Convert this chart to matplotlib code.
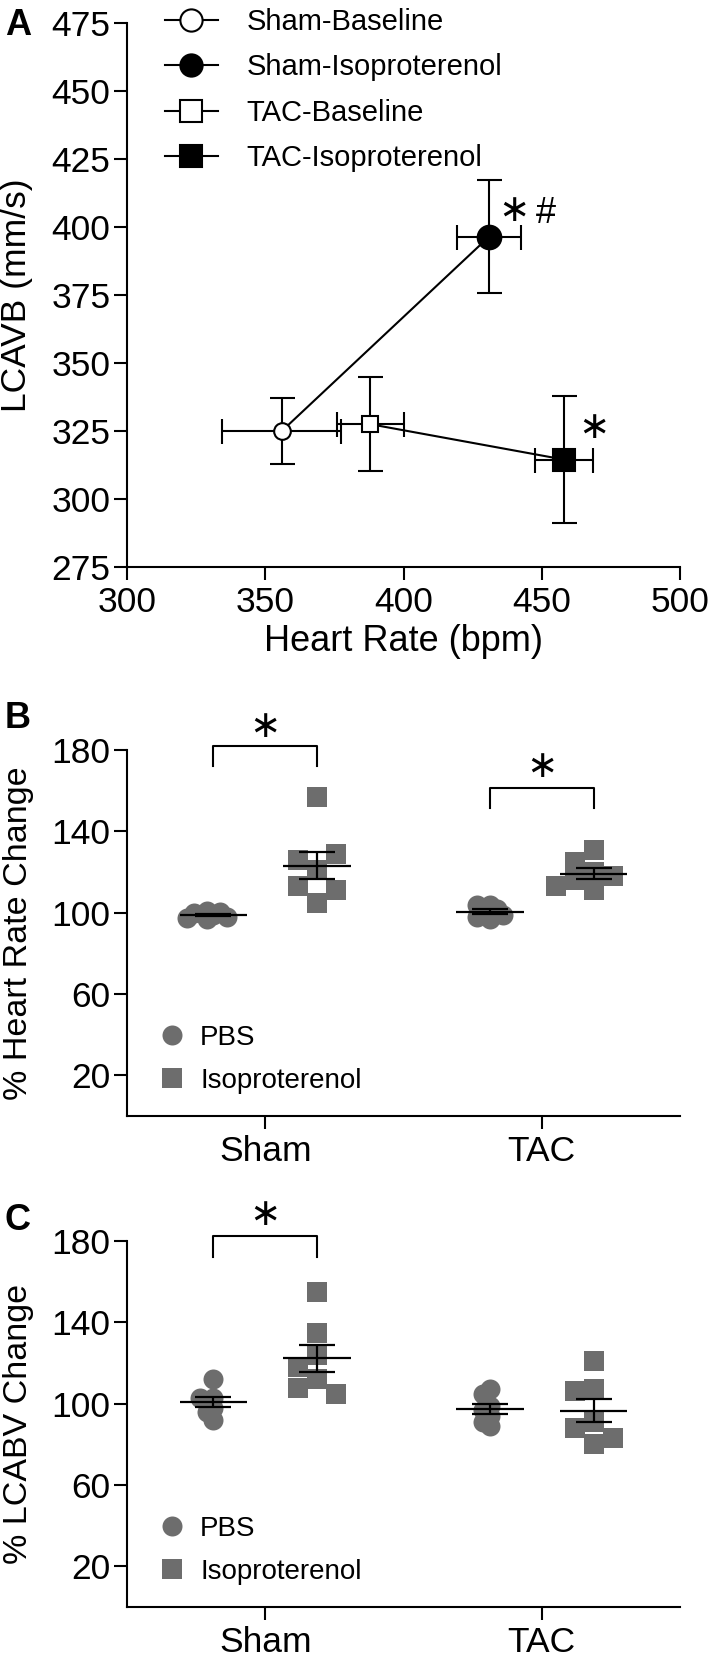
import matplotlib
matplotlib.use('Agg')
import matplotlib.pyplot as plt
from matplotlib.lines import Line2D
import numpy as np

plt.rcParams['font.family'] = ['Liberation Sans', 'DejaVu Sans']

# ---- panel A: means +/- SEM
groups_a = ['Sham-Baseline', 'Sham-Isoproterenol', 'TAC-Baseline', 'TAC-Isoproterenol']
hr_mean = [356, 431, 388, 458]
hr_sem = [21.5, 11.5, 12.2, 10.5]
lcavb_mean = [325, 396.5, 327.5, 314.5]
lcavb_sem = [12.3, 20.7, 17.3, 23.4]

# ---- panel B: % heart rate change (individual animals)
hr_sham_pbs = [99, 101, 97, 100.5, 98, 100, 97.5]
hr_sham_iso = [157, 121, 105, 126, 129, 113, 111]
hr_tac_pbs = [97, 104, 104, 100, 102, 98, 99]
hr_tac_iso = [131, 125, 120, 118, 116, 113, 111]

# ---- panel C: % LCABV change
cv_sham_pbs = [112, 103, 103, 101, 98, 96, 92]
cv_sham_iso = [155, 135, 124, 118, 112, 107.5, 105]
cv_tac_pbs = [107, 105, 99, 97, 94, 91, 89]
cv_tac_iso = [121, 107, 106, 91, 88, 83, 80]

categories = ['Sham', 'TAC']
treatments = ['PBS', 'Isoproterenol']

GRAY = '#6d6d6d'
W, H = 710, 1661


def rect(top, bottom, left=127, right=680):
    return [left / W, 1 - bottom / H, (right - left) / W, (bottom - top) / H]


def clean(ax):
    for s in ['top', 'right']:
        ax.spines[s].set_visible(False)
    for s in ['left', 'bottom']:
        ax.spines[s].set_linewidth(1.5)
    ax.tick_params(width=1.5, length=9.5, pad=2.5, labelsize=25.5)


def star(ax, x, y, size=27):
    ax.text(x, y, '∗', fontsize=size, ha='center', va='center',
            family='DejaVu Sans', clip_on=False)


def swarm(ax, center, vals, size_px, shape):
    # simple greedy beeswarm, offsets computed in pixels
    ys = ax.transData.transform(np.column_stack([np.full(len(vals), center), vals]))[:, 1]
    px_x = ax.transData.transform((1, 0))[0] - ax.transData.transform((0, 0))[0]
    if shape == 's':
        step, lim = 0.5 * size_px, 0.95 * size_px
    else:
        step, lim = 0.33 * size_px, 0.36 * size_px
    placed = []
    xs = []
    for y in ys:
        k = 0
        while True:
            n = (k + 1) // 2 * (1 if k % 2 == 0 else -1)
            off = n * step
            if shape == 's':
                bad = any(abs(off - px) < lim and abs(y - py) < lim for px, py in placed)
            else:
                bad = any(np.hypot(off - px, y - py) < lim for px, py in placed)
            if not bad:
                break
            k += 1
        placed.append((off, y))
        xs.append(center + off / px_x)
    return xs


fig = plt.figure(figsize=(W / 100, H / 100), dpi=100)

# ================= A
ax = fig.add_axes(rect(23, 567))
ax.set_xlim(300, 500)
ax.set_ylim(275, 475)
ax.set_xticks(range(300, 501, 50))
ax.set_yticks(range(275, 476, 25))
clean(ax)
ax.tick_params(axis='x', pad=4)
ax.plot(hr_mean[:2], lcavb_mean[:2], color='k', lw=1.5, zorder=2)
ax.plot(hr_mean[2:], lcavb_mean[2:], color='k', lw=1.5, zorder=2)
ax.errorbar(hr_mean, lcavb_mean, xerr=hr_sem, yerr=lcavb_sem, fmt='none',
            ecolor='k', elinewidth=1.5, capsize=9, capthick=1.5, zorder=3)
styles = [('o', 'white', 12), ('o', 'black', 17), ('s', 'white', 12), ('s', 'black', 16)]
handles = []
for i, (m, fc, ms) in enumerate(styles):
    ax.plot(hr_mean[i], lcavb_mean[i], marker=m, ms=ms, mfc=fc, mec='k', mew=1.5,
            ls='none', zorder=4)
    handles.append(Line2D([], [], color='k', lw=1.5, marker=m, ms=16, mfc=fc,
                          mec='k', mew=1.5))
ax.legend(handles, groups_a, loc='upper left', bbox_to_anchor=(0.069, 1.028),
          frameon=False, fontsize=21, handlelength=1.8, handletextpad=1.0,
          labelspacing=0.6, borderpad=0, borderaxespad=0)
star(ax, 440, 406)
ax.text(451.5, 405, '#', fontsize=26, ha='center', va='center')
star(ax, 469, 326)
ax.set_xlabel('Heart Rate (bpm)', fontsize=26)
ax.set_ylabel('LCAVB (mm/s)', fontsize=25.5)
ax.yaxis.set_label_coords(-0.17, 0.5)
ax.xaxis.set_label_coords(0.5, -0.105)


# ================= B and C
def dot_panel(top, bottom, data, ylabel, brackets):
    ax = fig.add_axes(rect(top, bottom))
    ax.set_xlim(0, 4)
    ax.set_ylim(0, 180)
    ax.set_yticks(range(20, 181, 40))
    ax.set_xticks([1, 3])
    ax.set_xticklabels(categories)
    clean(ax)
    ax.tick_params(axis='x', pad=4)
    centers = [0.625, 1.375, 2.625, 3.375]
    shapes = ['o', 's', 'o', 's']
    for c, vals, m in zip(centers, data, shapes):
        xs = swarm(ax, c, vals, 20 if m == 'o' else 19, m)
        ax.scatter(xs, vals, marker=m, s=(14.4 if m == 'o' else 13.7) ** 2,
                   color=GRAY, linewidths=0, zorder=2)
        mu = np.mean(vals)
        se = np.std(vals, ddof=1) / np.sqrt(len(vals))
        ax.hlines(mu, c - 0.245, c + 0.245, color='k', lw=1.6, zorder=3)
        ax.errorbar(c, mu, yerr=se, fmt='none', ecolor='k', elinewidth=1.6,
                    capsize=13, capthick=1.6, zorder=3)
    for x0, x1, ytop, ybot, ystar in brackets:
        ax.plot([x0, x0, x1, x1], [ybot, ytop, ytop, ybot], color='k', lw=1.5,
                clip_on=False)
        star(ax, (x0 + x1) / 2, ystar)
    ax.legend([Line2D([], [], ls='none', marker='o', ms=14.4, color=GRAY, mew=0),
               Line2D([], [], ls='none', marker='s', ms=13.7, color=GRAY, mew=0)],
              treatments, loc='lower left', bbox_to_anchor=(0.062, 0.06),
              frameon=False, fontsize=20, handlelength=0.8, handletextpad=0.6,
              labelspacing=0.62, borderpad=0, borderaxespad=0)
    ax.set_ylabel(ylabel, fontsize=24.5)
    ax.yaxis.set_label_coords(-0.168, 0.5)
    return ax


dot_panel(750, 1116, [hr_sham_pbs, hr_sham_iso, hr_tac_pbs, hr_tac_iso],
          '% Heart Rate Change',
          [(0.625, 1.375, 182, 172, 191.5), (2.625, 3.375, 161.5, 151.5, 171.5)])
dot_panel(1241, 1607, [cv_sham_pbs, cv_sham_iso, cv_tac_pbs, cv_tac_iso],
          '% LCABV Change',
          [(0.625, 1.375, 182.5, 172.3, 193)])

for letter, ybase in [('A', 35), ('B', 728), ('C', 1230)]:
    fig.text(5 / W, 1 - ybase / H, letter, fontsize=26, fontweight='bold',
             ha='left', va='baseline')

fig.savefig('out.png', dpi=100)
